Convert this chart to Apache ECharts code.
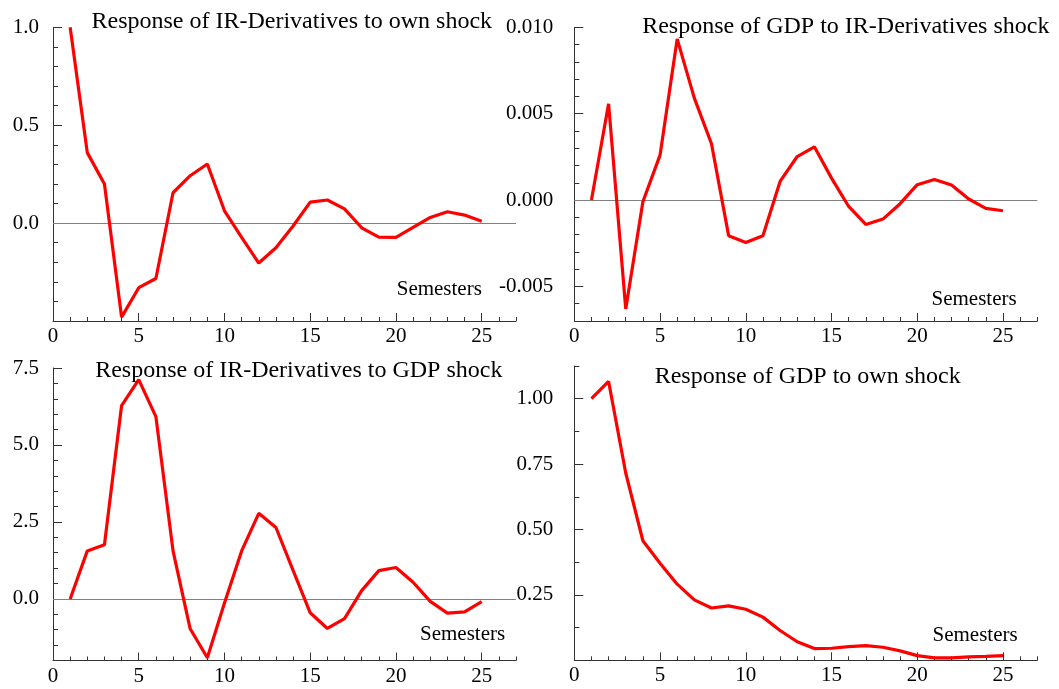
<!DOCTYPE html>
<html><head><meta charset="utf-8">
<script src="https://cdn.jsdelivr.net/npm/echarts@6/dist/echarts.min.js"></script>
<style>html,body{margin:0;padding:0;background:#fff}#c{width:1059px;height:689px}</style>
</head><body><div id="c"></div>
<script>
const periods = [1,2,3,4,5,6,7,8,9,10,11,12,13,14,15,16,17,18,19,20,21,22,23,24,25];
const irOwn = [1.0, 0.36, 0.2, -0.48, -0.33, -0.283, 0.155, 0.242, 0.302, 0.063, -0.073, -0.204, -0.126, -0.015, 0.107, 0.118, 0.073, -0.024, -0.072, -0.073, -0.022, 0.029, 0.058, 0.041, 0.009];
const gdpToIr = [0, 0.00557, -0.0063, -0.0001, 0.0026, 0.00933, 0.0059, 0.00326, -0.00206, -0.00245, -0.00206, 0.00108, 0.00252, 0.00308, 0.00127, -0.00037, -0.00141, -0.0011, -0.00021, 0.00089, 0.00119, 0.00087, 0.00006, -0.00048, -0.00062];
const irToGdp = [0, 1.56, 1.76, 6.28, 7.12, 5.92, 1.56, -0.97, -1.91, -0.13, 1.56, 2.78, 2.32, 0.93, -0.45, -0.96, -0.64, 0.27, 0.92, 1.02, 0.54, -0.08, -0.46, -0.42, -0.09];
const gdpOwn = [1.0, 1.066, 0.716, 0.457, 0.371, 0.291, 0.231, 0.200, 0.208, 0.195, 0.165, 0.114, 0.071, 0.045, 0.046, 0.052, 0.056, 0.050, 0.036, 0.018, 0.009, 0.009, 0.013, 0.015, 0.018];

const titles = ['Response of IR-Derivatives to own shock', 'Response of GDP to IR-Derivatives shock',
                'Response of IR-Derivatives to GDP shock', 'Response of GDP to own shock'];
const xAxisName = 'Semesters';
const xLabelValues = [0, 5, 10, 15, 20, 25];
const xMajorTicks = [5, 10, 15, 20, 25];
const yLabelValues = [[0, 0.5, 1.0], [-0.005, 0, 0.005, 0.010], [0, 2.5, 5.0, 7.5], [0.25, 0.50, 0.75, 1.00]];
const yDecimals = [1, 3, 1, 2];
const yMin = [-0.5, -0.007, -2, 0];
const yMax = [1.0, 0.010, 7.5, 1.125];
const yMinorStep = [0.1, 0.001, 0.5, 0.125];
const seriesValues = [irOwn, gdpToIr, irToGdp, gdpOwn];
const hasZeroLine = [true, true, true, false];

const FONT = '"Liberation Serif", "Times New Roman", serif';
const AX = '#333';
const grids = [
  {left: 53, top: 27.3, width: 463, height: 293.7},
  {left: 574.3, top: 27.3, width: 463, height: 293.7},
  {left: 53, top: 368, width: 463, height: 292.5},
  {left: 574.3, top: 366, width: 463, height: 294.3}
];
const labelMargin = [14, 21, 14, 21];
const titlePos = [[291.8, 22], [845.8, 26.3], [298.8, 371], [807.7, 377]];
const semPos = [[396.7, 289.7], [931.5, 299.7], [420, 634.7], [932.5, 635.7]];

const xAxes = [], yAxes = [], series = [], graphics = [];
for (let i = 0; i < 4; i++) {
  xAxes.push({
    type: 'value', gridIndex: i, min: 0, max: 27, interval: 1, position: 'bottom',
    axisLine: {show: true, onZero: false, lineStyle: {color: AX, width: 1}},
    axisTick: {show: true, inside: true, length: 4, lineStyle: {color: AX}},
    axisLabel: {customValues: xLabelValues, margin: 5, fontFamily: FONT, fontSize: 21, color: '#000'},
    splitLine: {show: false}
  });
  xAxes.push({
    type: 'value', gridIndex: i, min: 0, max: 27, interval: 5, position: 'bottom',
    axisLine: {show: false, onZero: false},
    axisTick: {show: true, inside: true, length: 8, customValues: xMajorTicks, lineStyle: {color: AX}},
    axisLabel: {show: false}, splitLine: {show: false}
  });
  const dec = yDecimals[i];
  yAxes.push({
    type: 'value', gridIndex: i, min: yMin[i], max: yMax[i], interval: yMinorStep[i], position: 'left',
    axisLine: {show: true, onZero: false, lineStyle: {color: AX, width: 1}},
    axisTick: {show: true, inside: true, length: 5, lineStyle: {color: AX}},
    axisLabel: {customValues: yLabelValues[i], margin: labelMargin[i], fontFamily: FONT, fontSize: 21, color: '#000',
                formatter: v => Number(v).toFixed(dec)},
    splitLine: {show: false}
  });
  yAxes.push({
    type: 'value', gridIndex: i, min: yMin[i], max: yMax[i], interval: yMinorStep[i], position: 'left',
    axisLine: {show: false, onZero: false},
    axisTick: {show: true, inside: true, length: 9, customValues: yLabelValues[i], lineStyle: {color: AX}},
    axisLabel: {show: false}, splitLine: {show: false}
  });
  const s = {
    type: 'line', xAxisIndex: 2 * i, yAxisIndex: 2 * i,
    data: periods.map((p, k) => [p, seriesValues[i][k]]),
    showSymbol: false, symbol: 'none', silent: true, z: 5,
    lineStyle: {color: '#ff0000', width: 3.2}
  };
  if (hasZeroLine[i]) {
    s.markLine = {silent: true, symbol: 'none', label: {show: false}, animation: false,
      lineStyle: {color: '#808080', width: 1, type: 'solid'}, data: [{yAxis: 0}]};
  }
  series.push(s);
  graphics.push({type: 'text', x: titlePos[i][0], y: titlePos[i][1], z: 10,
    style: {text: titles[i], font: '24px ' + FONT, fill: '#000', align: 'center', textAlign: 'center', verticalAlign: 'middle', textVerticalAlign: 'middle'}});
  graphics.push({type: 'text', x: semPos[i][0], y: semPos[i][1], z: 10,
    style: {text: xAxisName, font: '21px ' + FONT, fill: '#000', align: 'left', textAlign: 'left', verticalAlign: 'middle', textVerticalAlign: 'middle'}});
}

const chart = echarts.init(document.getElementById('c'), null, {renderer: 'canvas'});
chart.setOption({
  animation: false,
  backgroundColor: '#fff',
  grid: grids,
  xAxis: xAxes,
  yAxis: yAxes,
  series: series,
  graphic: graphics
});
</script>
</body></html>
